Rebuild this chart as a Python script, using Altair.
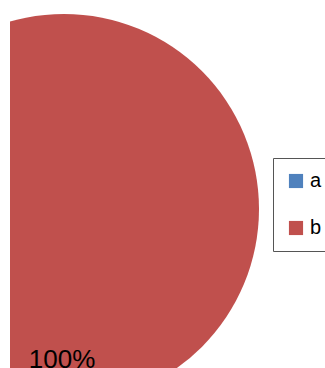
import altair as alt
import pandas as pd

categories = ["a", "b"]
values = [0, 100]
labels = ["0%", "100%"]
colors = ["#4F81BD", "#C0504D"]

df = pd.DataFrame({"cat": categories, "val": values, "label": labels})

color = alt.Color(
    "cat:N",
    scale=alt.Scale(domain=categories, range=colors),
    legend=alt.Legend(
        title=None,
        orient="none",
        legendX=263,
        legendY=158,
        symbolType="square",
        symbolSize=200,
        symbolStrokeWidth=0,
        labelFontSize=20,
        labelFont="Liberation Sans",
        labelColor="#000000",
        rowPadding=27,
        padding=13,
        strokeColor="#555555",
        fillColor="#ffffff",
        labelOffset=4,
        offset=0,
    ),
)

pie = alt.Chart(df).mark_arc(clip=True, radius=195, stroke=None).encode(
    theta=alt.Theta("val:Q", stack=True),
    color=color,
    order=alt.Order("cat:N"),
    x=alt.value(54),
    y=alt.value(209),
)

txt = alt.Chart(df).transform_filter(alt.datum.val > 0).mark_text(
    font="Liberation Sans", fontSize=26, color="#000000", baseline="alphabetic", align="center"
).encode(
    text="label:N",
    x=alt.value(52),
    y=alt.value(368),
)

chart = alt.layer(pie, txt).properties(
    width=315,
    height=368,
    autosize=alt.AutoSizeParams(type="none"),
    padding={"left": 10, "top": 0, "right": 0, "bottom": 0},
).configure_view(stroke=None)

chart.save("out.html", embed_options={"renderer": "svg", "actions": False})
